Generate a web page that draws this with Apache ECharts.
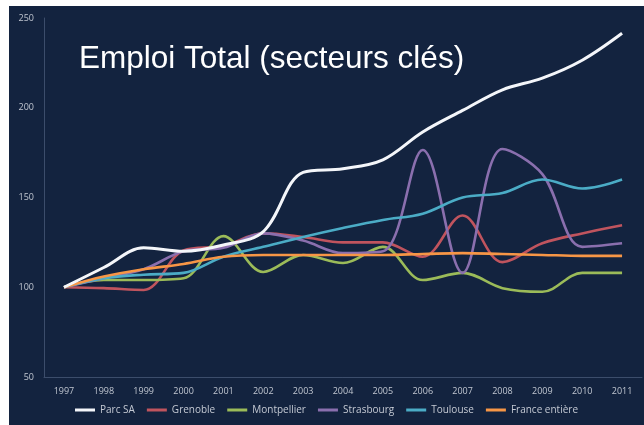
<!DOCTYPE html>
<html>
<head>
<meta charset="utf-8">
<script src="https://cdn.jsdelivr.net/npm/echarts@6/dist/echarts.min.js"></script>
<style>
html,body{margin:0;padding:0;background:#ffffff;}
#c{position:absolute;left:9px;top:6px;width:635px;height:419px;}
</style>
</head>
<body>
<div id="c"></div>
<script>
var years = ['1997','1998','1999','2000','2001','2002','2003','2004','2005','2006','2007','2008','2009','2010','2011'];
var seriesNames = ['Parc SA','Grenoble','Montpellier','Strasbourg','Toulouse','France entière'];
var parcSA     = [100,111,122,120,123.5,131,164,166,171,186.5,198.5,210,216.5,226.5,241.5];
var grenoble   = [100,99.5,98.5,120.5,123,130,128,125,125,117,140,114,124.5,130,134.5];
var montpellier= [100,104,104,105,128.5,108.5,118,113.5,122.5,104,108,99.5,97.5,108,108];
var strasbourg = [100,105,110,120,122,130,126,119,120,176.5,108,177,163,122.5,124.5];
var toulouse   = [100,105,107,108,117,122.5,128,133,137.5,141,150,152.5,160,155,160];
var france     = [100,106,110,113,117,118,118,118,118,118.5,119,118.5,118,117.5,117.5];
var yTicks = {min:50, max:250, interval:50};
var titleText = 'Emploi Total (secteurs clés)';

var colors = ['#f4f6fa','#c0545e','#9bbb59','#8a6fae','#4bacc6','#f79646'];
var data = [parcSA, grenoble, montpellier, strasbourg, toulouse, france];

var chart = echarts.init(document.getElementById('c'));
chart.setOption({
  backgroundColor: '#13233f',
  animation: false,
  title: {
    text: titleText, left: 70, top: 37, padding: 0,
    textStyle: {color:'#ffffff', fontFamily:'Liberation Sans', fontSize: 31.5, fontWeight:'normal'}
  },
  grid: {left: 35, right: 2, top: 12, bottom: 48},
  legend: {
    data: seriesNames, bottom: 5, left: 'center',
    icon: 'rect', itemWidth: 20, itemHeight: 3, itemGap: 12,
    textStyle: {color:'#c4c9d3', fontSize: 10, fontFamily:'Open Sans'}
  },
  xAxis: {
    type: 'category', data: years, boundaryGap: true,
    axisLine: {lineStyle: {color:'#3c4d6b', width:1}},
    axisTick: {show:false},
    axisLabel: {color:'#c0c6d0', fontSize: 9, fontFamily:'Open Sans', margin: 10}
  },
  yAxis: {
    type: 'value', min: yTicks.min, max: yTicks.max, interval: yTicks.interval,
    axisLine: {show:true, lineStyle: {color:'#3c4d6b', width:1}},
    axisTick: {show:false},
    splitLine: {show:false},
    axisLabel: {color:'#c0c6d0', fontSize: 9, fontFamily:'Open Sans', margin: 10}
  },
  series: seriesNames.map(function(n,i){
    return {
      name: n, type: 'line', data: data[i], smooth: 0.35,
      showSymbol: false, symbol: 'none',
      lineStyle: {color: colors[i], width: i===0 ? 3 : 2.6},
      itemStyle: {color: colors[i]},
      z: i===5 ? 3 : (i===0 ? 4 : 2)
    };
  })
});
</script>
</body>
</html>
